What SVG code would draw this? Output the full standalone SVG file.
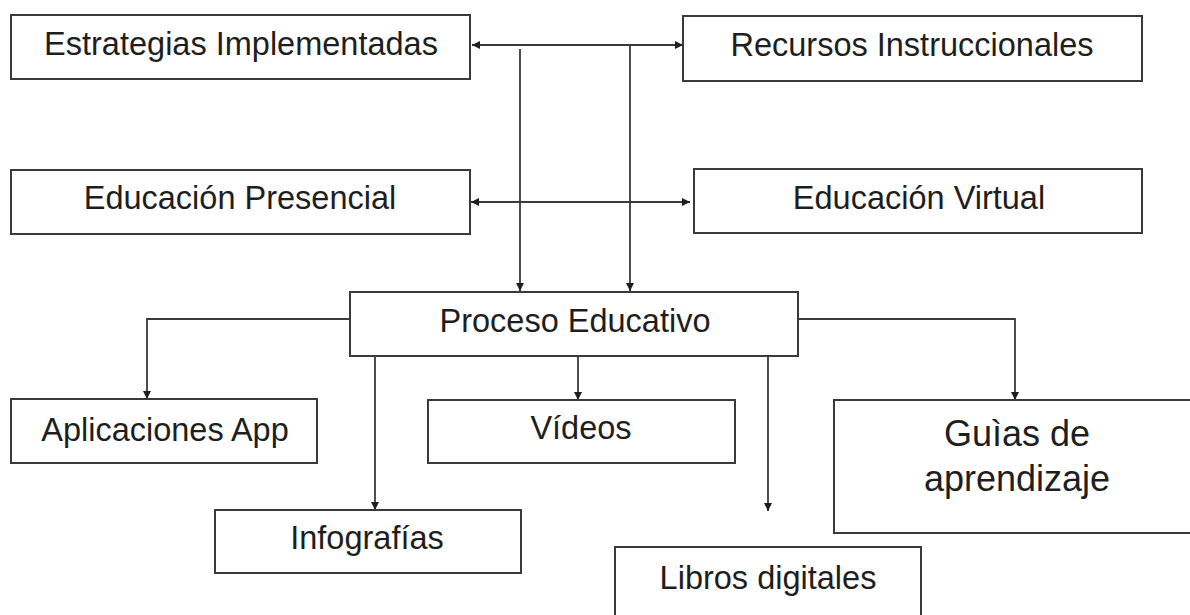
<svg xmlns="http://www.w3.org/2000/svg" width="1190" height="615" viewBox="0 0 1190 615">
<style>
.box{fill:#fff;stroke:#3a3a3a;stroke-width:2}
.lbl{font-family:"Liberation Sans",Arial,sans-serif;font-size:32.5px;fill:#1e1e1e;text-anchor:middle}
.big{font-size:36px}
.con{fill:none;stroke:#3a3a3a;stroke-width:1.8}
</style>
<defs>
<marker id="ah" viewBox="0 0 10 10" refX="10" refY="5" markerWidth="8" markerHeight="8" markerUnits="userSpaceOnUse" orient="auto-start-reverse">
<path d="M0,0 L10,5 L0,10 z" fill="#1e1e1e"/>
</marker>
</defs>
<rect width="1190" height="615" fill="#fff"/>
<g id="connectors">
<path class="con" d="M472,45 H683" marker-start="url(#ah)" marker-end="url(#ah)"/>
<path class="con" d="M471,202 H690" marker-start="url(#ah)" marker-end="url(#ah)"/>
<path class="con" d="M520,49 V291" marker-end="url(#ah)"/>
<path class="con" d="M630,45 V291" marker-end="url(#ah)"/>
<path class="con" d="M350,319 H147 V399" marker-end="url(#ah)"/>
<path class="con" d="M375,357 V510" marker-end="url(#ah)"/>
<path class="con" d="M578,357 V400" marker-end="url(#ah)"/>
<path class="con" d="M768,357 V511" marker-end="url(#ah)"/>
<path class="con" d="M798,319 H1015 V400" marker-end="url(#ah)"/>
</g>
<g id="n-estrategias"><rect class="box" x="11" y="15" width="459" height="64"/><text class="lbl" x="241" y="55">Estrategias Implementadas</text></g>
<g id="n-recursos"><rect class="box" x="683" y="16" width="459" height="65"/><text class="lbl" x="912" y="56">Recursos Instruccionales</text></g>
<g id="n-presencial"><rect class="box" x="11" y="170" width="459" height="64"/><text class="lbl" x="240" y="209">Educación Presencial</text></g>
<g id="n-virtual"><rect class="box" x="694" y="169" width="448" height="64"/><text class="lbl" x="919" y="209">Educación Virtual</text></g>
<g id="n-proceso"><rect class="box" x="350" y="292" width="448" height="64"/><text class="lbl" x="575" y="332">Proceso Educativo</text></g>
<g id="n-aplicaciones"><rect class="box" x="11" y="399" width="306" height="64"/><text class="lbl" x="165" y="441">Aplicaciones App</text></g>
<g id="n-videos"><rect class="box" x="428" y="400" width="307" height="63"/><text class="lbl" x="581" y="439">Vídeos</text></g>
<g id="n-infografias"><rect class="box" x="215" y="510" width="306" height="63"/><text class="lbl" x="367" y="549">Infografías</text></g>
<g id="n-libros"><rect class="box" x="615" y="547" width="306" height="80"/><text class="lbl" x="768" y="589">Libros digitales</text></g>
<g id="n-guias"><rect class="box" x="834" y="400" width="370" height="133"/><text class="lbl big" x="1017" y="446">Guìas de</text><text class="lbl big" x="1017" y="491">aprendizaje</text></g>
</svg>
